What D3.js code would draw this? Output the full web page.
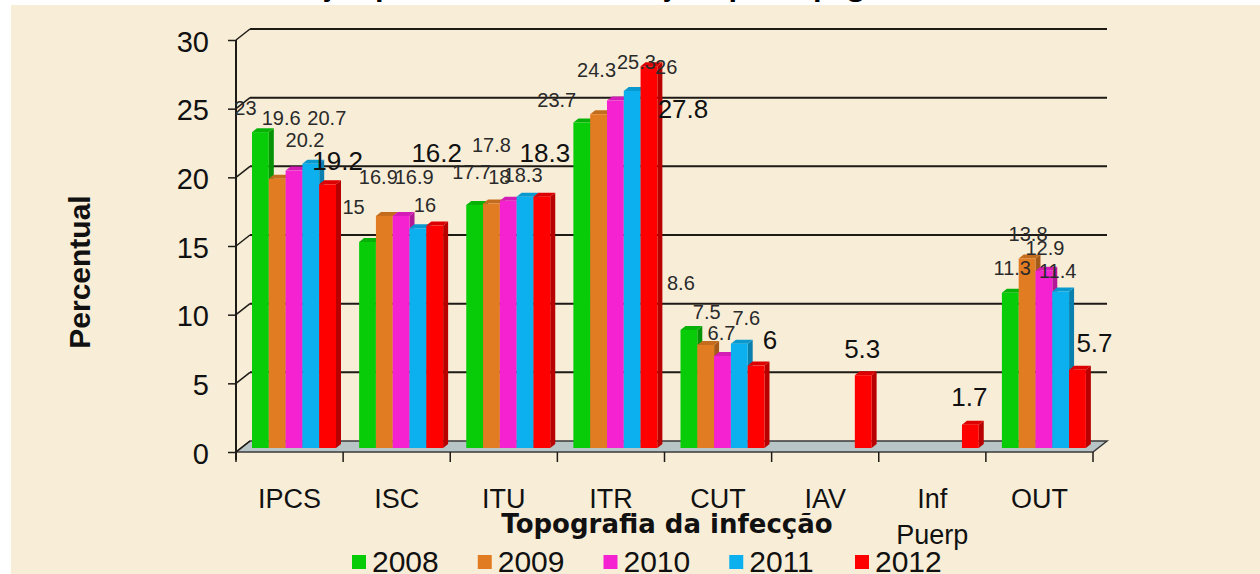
<!DOCTYPE html>
<html>
<head>
<meta charset="utf-8">
<script src="https://cdn.jsdelivr.net/npm/d3@7"></script>
<style>
  html, body { margin: 0; padding: 0; background: #ffffff; }
  svg { display: block; }
</style>
</head>
<body>
<div id="chart"></div>
<script>
// data
var categories = ["IPCS", "ISC", "ITU", "ITR", "CUT", "IAV", "Inf Puerp", "OUT"];
var years = ["2008", "2009", "2010", "2011", "2012"];
var values2008 = [23, 15, 17.7, 23.7, 8.6, null, null, 11.3];
var values2009 = [19.6, 16.9, 17.8, 24.3, 7.5, null, null, 13.8];
var values2010 = [20.2, 16.9, 18, 25.3, 6.7, null, null, 12.9];
var values2011 = [20.7, 16, 18.3, 26, 7.6, null, null, 11.4];
var values2012 = [19.2, 16.2, 18.3, 27.8, 6, 5.3, 1.7, 5.7];
var yTicks = [0, 5, 10, 15, 20, 25, 30];

var seriesValues = [values2008, values2009, values2010, values2011, values2012];
var COLORS = ["#08cc08", "#e27c22", "#f522d2", "#0cb0ee", "#fe0000"];

// label nudges (layout only), [dx, dy] from the top of each bar
var labelShift = [
  [[-15,-24],[-14,-35],[-3,-33],[-25,-23],[-8,-47],null,null,[2,-25]],
  [[4,-61],[-6,-39],[0,-59],[-2,-44],[1,-33],null,null,[1,-25]],
  [[11,-31],[13,-39],[-9,-24],[21,-39],[-1,-23],null,null,[1,-23]],
  [[16,-46],[7,-23],[-2,-22],[34,-24],[7,-26],null,null,[-3,-21]],
  [[10,-24],[2,-73],[3,-44],[34,42],[14,-26],[-1,-27],[-1,-28],[17,-27]]
];

var w = 1260, h = 574;
var DX = 14, DY = -11;      // wall depth
var bx = 5, by = -4;        // bar depth

var mysvg = d3.select("#chart").append("svg").attr("width", w).attr("height", h);

// background
mysvg.append("rect").attr("width", w).attr("height", h).attr("fill", "#ffffff");
mysvg.append("rect").attr("x", 11).attr("y", 5).attr("width", w - 11).attr("height", h - 5).attr("fill", "#f8eed8");

// clipped title at top
mysvg.append("text")
  .attr("x", 640).attr("y", -5)
  .attr("text-anchor", "middle")
  .attr("font-family", "'Open Sans', sans-serif")
  .attr("font-weight", "bold")
  .attr("font-size", 28)
  .attr("fill", "#000")
  .text("Distribuição percentual das infecções por topografia, 2008-2012");

var x0 = d3.scaleBand().domain(categories).range([236, 1093]);
var x1 = d3.scaleBand().domain(years).range([16, 100]);
var y = d3.scaleLinear().domain([0, 30]).range([452, 40]);

// floor
var fx0 = x0.range()[0], fx1 = x0.range()[1];
mysvg.append("polygon")
  .attr("points", [[fx0, y(0)], [fx1, y(0)], [fx1 + DX, y(0) + DY], [fx0 + DX, y(0) + DY]].join(" "))
  .attr("fill", "#b7c5c7")
  .attr("stroke", "#3a3a3a")
  .attr("stroke-width", 1.5);

// back wall gridlines + side diagonals
var grid = mysvg.append("g").attr("stroke", "#1e1a16").attr("stroke-width", 2).attr("fill", "none");
yTicks.forEach(function(t) {
  if (t > 0) {
    grid.append("line").attr("x1", fx0 + DX).attr("x2", fx1 + DX)
      .attr("y1", y(t) + DY).attr("y2", y(t) + DY);
  }
  grid.append("line").attr("x1", fx0).attr("x2", fx0 + DX)
    .attr("y1", y(t)).attr("y2", y(t) + DY).attr("stroke-width", 1.5);
});

// y axis
var yAxis = d3.axisLeft(y).tickValues(yTicks).tickSize(8).tickPadding(4);
var gy = mysvg.append("g").attr("transform", "translate(" + fx0 + ",0)").call(yAxis);
gy.select(".domain").attr("stroke", "#1e1a16").attr("stroke-width", 2).attr("d", "M0," + y(30) + "V" + (y(0) + 8));
gy.selectAll(".tick line").attr("stroke", "#1e1a16").attr("stroke-width", 1.5);
gy.selectAll(".tick text")
  .attr("font-family", "'Liberation Sans', Arial, sans-serif")
  .attr("font-size", 29)
  .attr("fill", "#111")
  .attr("x", -27)
  .attr("dy", "0.38em");

// x ticks at category boundaries
var bounds = categories.map(function(c) { return x0(c); }).concat([fx1]);
mysvg.append("g").selectAll("line").data(bounds).join("line")
  .attr("x1", function(d) { return d; }).attr("x2", function(d) { return d; })
  .attr("y1", y(0)).attr("y2", y(0) + 10)
  .attr("stroke", "#1e1a16").attr("stroke-width", 1.5);

// bars
var base = y(0) - 4;
var bars = mysvg.append("g");
categories.forEach(function(cat, ci) {
  years.forEach(function(yr, si) {
    var v = seriesValues[si][ci];
    if (v == null) return;
    var c = COLORS[si];
    var left = x0(cat) + x1(yr), bw = x1.bandwidth();
    var top = y(v) - 4;
    var g = bars.append("g");
    // side
    g.append("polygon")
      .attr("points", [[left + bw, top], [left + bw + bx, top + by], [left + bw + bx, base + by], [left + bw, base]].join(" "))
      .attr("fill", d3.color(c).darker(0.9));
    // top
    g.append("polygon")
      .attr("points", [[left, top], [left + bx, top + by], [left + bw + bx, top + by], [left + bw, top]].join(" "))
      .attr("fill", d3.color(c).darker(0.4));
    // front
    g.append("rect")
      .attr("x", left).attr("y", top).attr("width", bw).attr("height", base - top)
      .attr("fill", c);
  });
});

// value labels
var labels = mysvg.append("g").attr("font-family", "'Liberation Sans', Arial, sans-serif").attr("text-anchor", "middle");
categories.forEach(function(cat, ci) {
  years.forEach(function(yr, si) {
    var v = seriesValues[si][ci];
    if (v == null) return;
    var s = labelShift[si][ci];
    var cx = x0(cat) + x1(yr) + x1.bandwidth() / 2;
    var big = si === years.length - 1;
    labels.append("text")
      .attr("x", cx + s[0])
      .attr("y", y(v) - 4 + s[1])
      .attr("dy", "0.36em")
      .attr("font-size", big ? 26 : 20)
      .attr("fill", big ? "#111" : "#2a2a2a")
      .text(String(v));
  });
});

// category labels
var cl = mysvg.append("g").attr("font-family", "'Liberation Sans', Arial, sans-serif")
  .attr("font-size", 27).attr("fill", "#111").attr("text-anchor", "middle");
categories.forEach(function(cat) {
  var parts = cat.split(" ");
  var cx = x0(cat) + x0.bandwidth() / 2;
  var t = cl.append("text").attr("x", cx).attr("y", 508);
  parts.forEach(function(p, i) {
    t.append("tspan").attr("x", cx).attr("dy", i ? 36 : 0).text(p);
  });
});

// axis titles
mysvg.append("text")
  .attr("transform", "translate(90,272) rotate(-90)")
  .attr("text-anchor", "middle")
  .attr("font-family", "'Liberation Sans', Arial, sans-serif")
  .attr("font-weight", "bold")
  .attr("font-size", 30)
  .attr("fill", "#111")
  .text("Percentual");

mysvg.append("text")
  .attr("x", 667).attr("y", 533)
  .attr("text-anchor", "middle")
  .attr("font-family", "'DejaVu Sans', sans-serif")
  .attr("font-weight", "bold")
  .attr("font-size", 26)
  .attr("fill", "#111")
  .text("Topografia da infecção");

// legend
var legend = mysvg.append("g").attr("font-family", "'Liberation Sans', Arial, sans-serif").attr("font-size", 30).attr("fill", "#111");
var lx = d3.scalePoint().domain(years).range([352, 855]);
years.forEach(function(yr, i) {
  legend.append("rect").attr("x", lx(yr)).attr("y", 555).attr("width", 14).attr("height", 14).attr("fill", COLORS[i]);
  legend.append("text").attr("x", lx(yr) + 20).attr("y", 572).text(yr);
});
</script>
</body>
</html>
